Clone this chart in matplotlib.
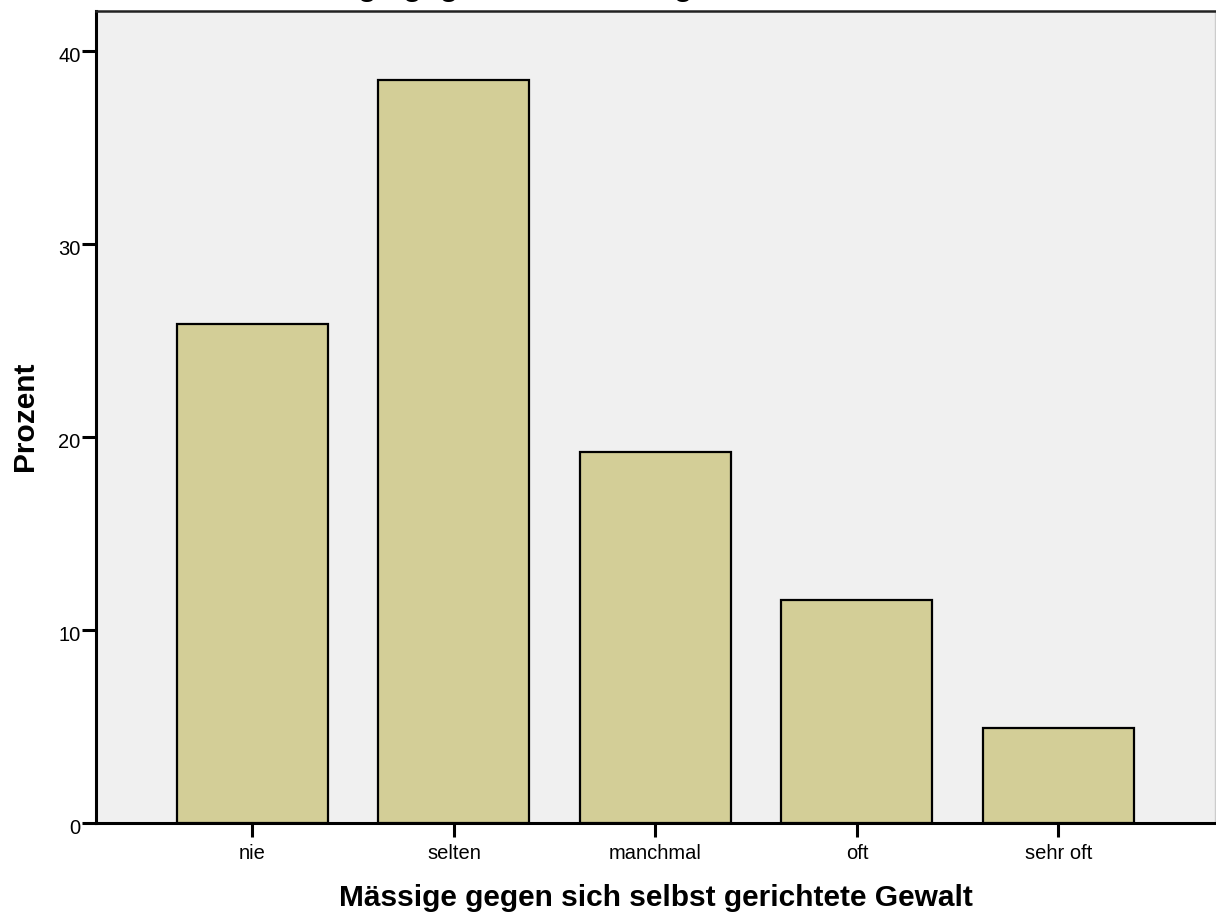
import matplotlib
matplotlib.use("Agg")
import matplotlib.pyplot as plt
import matplotlib.transforms as mtransforms

plt.rcParams['font.family'] = ['Liberation Sans', 'DejaVu Sans']

# data
categories = ['nie', 'selten', 'manchmal', 'oft', 'sehr oft']
percent = [25.85, 38.5, 19.2, 11.55, 4.92]
yticks = [0, 10, 20, 30, 40]

title = 'Mässige gegen sich selbst gerichtete Gewalt'
xlabel = 'Mässige gegen sich selbst gerichtete Gewalt'
ylabel = 'Prozent'

W, H = 1216, 918
fig = plt.figure(figsize=(W / 100, H / 100), dpi=100)
fig.patch.set_facecolor('white')

ax = fig.add_axes([96 / W, 1 - 823 / H, (1215 - 96) / W, (823 - 11) / H])
ax.set_facecolor('#F0F0F0')

pos = list(range(1, len(categories) + 1))
ax.bar(pos, percent, width=0.75, color='#D3CE97', edgecolor='black',
       linewidth=1.6, zorder=3)

ax.set_xlim(0.224, 5.777)
ax.set_ylim(0, 42.07)
ax.set_xticks(pos)
ax.set_xticklabels(categories, fontsize=14.5)
ax.set_yticks(yticks)
ax.set_yticklabels([str(t) for t in yticks], fontsize=14.5)

ax.tick_params(axis='both', direction='out', length=10, width=2.2, color='black')
ax.tick_params(axis='x', pad=5)
ax.tick_params(axis='y', pad=1)

# spss puts y labels a bit below the ticks
off = mtransforms.ScaledTranslation(0, -4 / 100, fig.dpi_scale_trans)
for lbl in ax.get_yticklabels():
    lbl.set_transform(lbl.get_transform() + off)

for side in ['left', 'bottom']:
    ax.spines[side].set_linewidth(2.2)
    ax.spines[side].set_color('black')
ax.spines['top'].set_linewidth(1.8)
ax.spines['top'].set_color('#222222')
ax.spines['right'].set_linewidth(1.0)
ax.spines['right'].set_color('#CCCCCC')

fig.text(656 / W, 1 - 906 / H, xlabel, ha='center', va='baseline',
         fontsize=21.5, fontweight='bold')
fig.text(33 / W, 1 - 416 / H, ylabel, ha='center', va='baseline',
         rotation=90, rotation_mode='anchor', fontsize=21.5, fontweight='bold')
# title sits mostly above the canvas, only descenders show
fig.text(603 / W, 1 + 4.5 / H, title, ha='center', va='baseline',
         fontsize=22.5, fontweight='bold')

fig.savefig('out.png', dpi=100, facecolor='white')
